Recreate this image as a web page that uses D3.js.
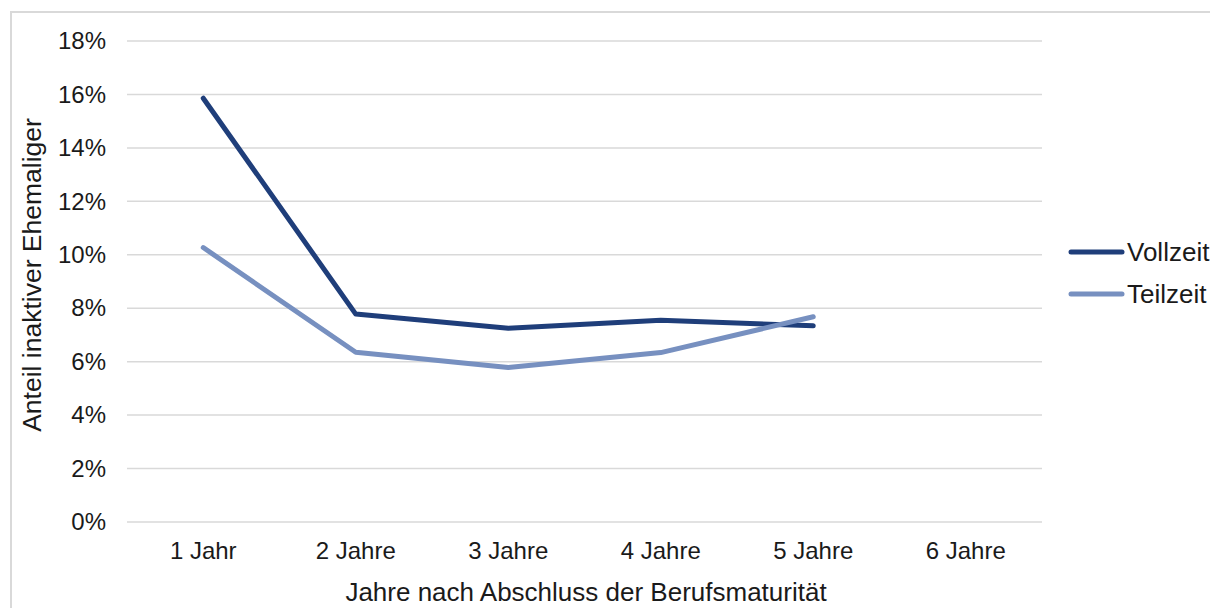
<!DOCTYPE html>
<html>
<head>
<meta charset="utf-8">
<script src="https://cdn.jsdelivr.net/npm/d3@7"></script>
<style>
  html, body { margin: 0; padding: 0; background: #fff; }
  svg { display: block; font-family: "Liberation Sans", Arial, sans-serif; }
</style>
</head>
<body>
<svg id="chart" width="1210" height="608"></svg>
<script>
// Share of inactive alumni by years after the vocational baccalaureate
const categories = ["1 Jahr", "2 Jahre", "3 Jahre", "4 Jahre", "5 Jahre", "6 Jahre"];
const vollzeit = [15.86, 7.78, 7.25, 7.55, 7.34];
const teilzeit = [10.27, 6.35, 5.78, 6.34, 7.68];
const seriesNames = ["Vollzeit", "Teilzeit"];
const seriesColors = ["#1f3e7a", "#7790c0"];
const yTicks = [0, 2, 4, 6, 8, 10, 12, 14, 16, 18];

const svg = d3.select("#chart");
const W = 1210, H = 608;
const textColor = "#1a1a1a";

// chart frame (light border on top and left)
svg.append("path")
  .attr("d", `M11,${H} V12 H${W}`)
  .attr("fill", "none")
  .attr("stroke", "#d9d9d9")
  .attr("stroke-width", 2);

const plot = { left: 127, right: 1042, top: 41, bottom: 522 };

const x = d3.scaleBand()
  .domain(categories)
  .range([plot.left, plot.right]);

const y = d3.scaleLinear()
  .domain([0, 18])
  .range([plot.bottom, plot.top]);

// horizontal gridlines
svg.append("g")
  .selectAll("line")
  .data(yTicks)
  .join("line")
  .attr("x1", plot.left)
  .attr("x2", plot.right)
  .attr("y1", d => y(d))
  .attr("y2", d => y(d))
  .attr("stroke", "#d9d9d9")
  .attr("stroke-width", 1.5);

// y axis labels
const yAxis = d3.axisLeft(y)
  .tickValues(yTicks)
  .tickFormat(d => d + "%")
  .tickSize(0)
  .tickPadding(0);
const gy = svg.append("g")
  .attr("transform", `translate(${plot.left - 21},0)`)
  .call(yAxis);
gy.select(".domain").remove();
gy.selectAll("text")
  .attr("font-size", 24)
  .attr("fill", textColor)
  .attr("font-family", "Liberation Sans, Arial, sans-serif");

// x axis labels
const xAxis = d3.axisBottom(x).tickSize(0).tickPadding(0);
const gx = svg.append("g")
  .attr("transform", `translate(0,${plot.bottom + 20})`)
  .call(xAxis);
gx.select(".domain").remove();
gx.selectAll("text")
  .attr("font-size", 24)
  .attr("fill", textColor)
  .attr("font-family", "Liberation Sans, Arial, sans-serif");

// axis titles
svg.append("text")
  .attr("x", 586)
  .attr("y", 601)
  .attr("text-anchor", "middle")
  .attr("font-size", 26)
  .attr("fill", textColor)
  .text("Jahre nach Abschluss der Berufsmaturität");

svg.append("text")
  .attr("transform", "translate(41,275) rotate(-90)")
  .attr("text-anchor", "middle")
  .attr("font-size", 26.5)
  .attr("fill", textColor)
  .text("Anteil inaktiver Ehemaliger");

// lines
const line = d3.line()
  .x((d, i) => x(categories[i]) + x.bandwidth() / 2)
  .y(d => y(d));

[vollzeit, teilzeit].forEach((vals, k) => {
  svg.append("path")
    .datum(vals)
    .attr("d", line)
    .attr("fill", "none")
    .attr("stroke", seriesColors[k])
    .attr("stroke-width", 5)
    .attr("stroke-linejoin", "round")
    .attr("stroke-linecap", "round");
});

// legend
const legend = svg.append("g").attr("transform", "translate(1071,252)");
seriesNames.forEach((name, k) => {
  const g = legend.append("g").attr("transform", `translate(0,${k * 42})`);
  g.append("line")
    .attr("x1", 0).attr("x2", 51)
    .attr("y1", 0).attr("y2", 0)
    .attr("stroke", seriesColors[k])
    .attr("stroke-width", 5)
    .attr("stroke-linecap", "round");
  g.append("text")
    .attr("x", 56)
    .attr("y", 9)
    .attr("font-size", 26)
    .attr("fill", textColor)
    .text(name);
});
</script>
</body>
</html>
